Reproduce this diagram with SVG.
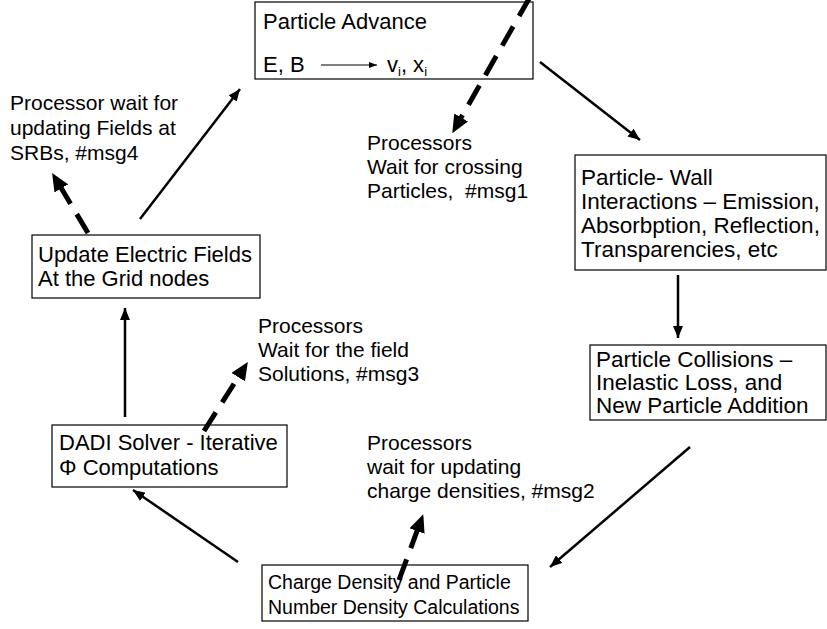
<svg xmlns="http://www.w3.org/2000/svg" width="827" height="629" viewBox="0 0 827 629">
<style>
  text { font-family: "Liberation Sans", Arial, sans-serif; font-size: 21px; fill: #000; }
  .bt { font-size: 22px; }
  .bt2 { font-size: 22.5px; }
  .bt3 { font-size: 19.5px; }
  .box { fill: #fff; stroke: #000; stroke-width: 1.2; }
  .solid { stroke: #000; stroke-width: 2.5; fill: none; }
  .dash { stroke: #000; stroke-width: 5; fill: none; stroke-dasharray: 22 12; }
</style>
<defs>
  <marker id="ah" viewBox="0 0 12 10" refX="12" refY="5" markerWidth="12" markerHeight="10" markerUnits="userSpaceOnUse" orient="auto">
    <path d="M0,0 L12,5 L0,10 z" fill="#000"/>
  </marker>
  <marker id="ahBig" viewBox="0 0 18 16" refX="3" refY="8" markerWidth="18" markerHeight="16" markerUnits="userSpaceOnUse" orient="auto">
    <path d="M0,0 L18,8 L0,16 z" fill="#000"/>
  </marker>
  <marker id="ahSmall" viewBox="0 0 8 6" refX="8" refY="3" markerWidth="8" markerHeight="6" markerUnits="userSpaceOnUse" orient="auto">
    <path d="M0,0 L8,3 L0,6 z" fill="#000"/>
  </marker>
</defs>
<rect width="827" height="629" fill="#fff"/>

<g id="particle-advance">
  <rect class="box" x="255" y="2" width="278" height="77"/>
  <text class="bt" x="263" y="29">Particle Advance</text>
  <text class="bt" x="263" y="72">E, B</text>
  <line x1="321" y1="65" x2="377" y2="65" stroke="#000" stroke-width="1" marker-end="url(#ahSmall)"/>
  <text class="bt" x="387" y="72">v<tspan font-size="13" dy="4">i</tspan><tspan dy="-4">, x</tspan><tspan font-size="13" dy="4">i</tspan></text>
</g>

<g id="particle-wall">
  <rect class="box" x="575" y="155" width="251" height="115"/>
  <text class="bt2" x="581" y="185">Particle- Wall</text>
  <text class="bt2" x="581" y="209">Interactions – Emission,</text>
  <text class="bt2" x="581" y="233">Absorbption, Reflection,</text>
  <text class="bt2" x="581" y="257">Transparencies, etc</text>
</g>

<g id="particle-collisions">
  <rect class="box" x="590" y="345" width="236" height="75"/>
  <text class="bt2" x="596" y="367">Particle Collisions –</text>
  <text class="bt2" x="596" y="390">Inelastic Loss, and</text>
  <text class="bt2" x="596" y="413">New Particle Addition</text>
</g>

<g id="charge-density">
  <rect class="box" x="262" y="565" width="266" height="56"/>
  <text class="bt3" x="268" y="589">Charge Density and Particle</text>
  <text class="bt3" x="268" y="614">Number Density Calculations</text>
</g>

<g id="dadi-solver">
  <rect class="box" x="52" y="425" width="235" height="62"/>
  <text class="bt" x="59" y="450">DADI Solver - Iterative</text>
  <text class="bt" x="59" y="475">Φ Computations</text>
</g>

<g id="update-fields">
  <rect class="box" x="32" y="235" width="228" height="63"/>
  <text class="bt" x="38" y="262">Update Electric Fields</text>
  <text class="bt" x="38" y="286">At the Grid nodes</text>
</g>

<g id="label-msg1">
  <text x="367" y="150">Processors</text>
  <text x="367" y="174">Wait for crossing</text>
  <text x="367" y="198">Particles,&#160; #msg1</text>
</g>

<g id="label-msg4">
  <text x="10" y="110">Processor wait for</text>
  <text x="10" y="135">updating Fields at</text>
  <text x="10" y="160">SRBs, #msg4</text>
</g>

<g id="label-msg3">
  <text x="258" y="333">Processors</text>
  <text x="258" y="357">Wait for the field</text>
  <text x="258" y="381">Solutions, #msg3</text>
</g>

<g id="label-msg2">
  <text x="367" y="450">Processors</text>
  <text x="367" y="474">wait for updating</text>
  <text x="367" y="498">charge densities, #msg2</text>
</g>

<g id="connectors">
  <line class="solid" x1="140" y1="219" x2="240" y2="89" marker-end="url(#ah)"/>
  <line class="solid" x1="540" y1="62" x2="640" y2="140" marker-end="url(#ah)"/>
  <line class="solid" x1="678" y1="275" x2="678" y2="338" marker-end="url(#ah)"/>
  <line class="solid" x1="690" y1="447" x2="550" y2="567" marker-end="url(#ah)"/>
  <line class="solid" x1="238" y1="562" x2="133" y2="490" marker-end="url(#ah)"/>
  <line class="solid" x1="125" y1="417" x2="125" y2="308" marker-end="url(#ah)"/>
  <line class="dash" x1="530" y1="-3" x2="459.7" y2="120.1" marker-end="url(#ahBig)"/>
  <line class="dash" x1="88" y1="233" x2="59.8" y2="185.8" marker-end="url(#ahBig)"/>
  <line class="dash" x1="204" y1="431" x2="239.8" y2="374.6" marker-end="url(#ahBig)"/>
  <line class="dash" x1="399" y1="580" x2="418.1" y2="528.2" marker-end="url(#ahBig)"/>
</g>
</svg>
